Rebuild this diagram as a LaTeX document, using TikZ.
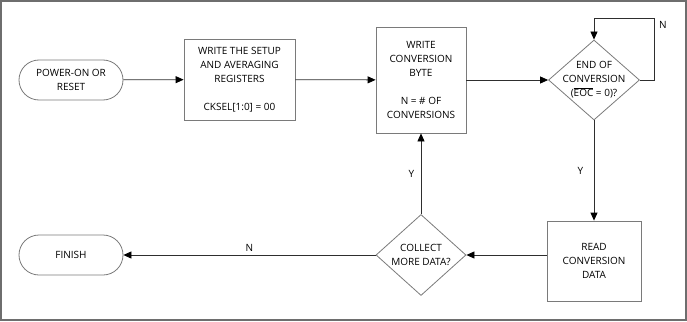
\documentclass[tikz,border=0pt]{standalone}
\usepackage{fontspec}
\setmainfont{Open Sans}
\usepackage{tikz}
\usetikzlibrary{shapes.geometric, arrows.meta}
\definecolor{framegray}{HTML}{6E6E6E}
\definecolor{boxgray}{HTML}{7A7A7A}
\definecolor{linegray}{HTML}{2E2E2E}

\begin{document}
\begin{tikzpicture}[
    x=1pt, y=-1pt,
    font=\fontsize{10}{14}\selectfont,
    terminal/.style={rectangle, rounded corners=20pt, draw=boxgray, line width=0.8pt, minimum width=104pt, minimum height=40pt, inner sep=0pt, align=center},
    process/.style={rectangle, draw=boxgray, line width=0.8pt, inner sep=0pt, align=center},
    decision/.style={diamond, draw=boxgray, line width=0.8pt, minimum width=91pt, minimum height=80pt, inner sep=0pt},
    flow/.style={draw=linegray, line width=0.8pt, -{Triangle[length=8pt, width=7pt, black]}},
]

% Frame
\draw[framegray, line width=1.5pt] (1,1) rectangle (686,320);
\useasboundingbox (0,0) rectangle (687,321);

% Steps
\node[terminal] (power) at (71,80) {POWER-ON OR\\RESET};

\node[process, minimum width=111pt, minimum height=81pt] (setup) at (239.5,79.5) {WRITE THE SETUP\\AND AVERAGING\\REGISTERS\\[14pt]CKSEL[1:0] = 00};

\node[process, minimum width=90pt, minimum height=106pt] (convbyte) at (421,80) {WRITE\\CONVERSION\\BYTE\\[14pt]N = \# OF\\CONVERSIONS};

\node[decision, label={[align=center]center:END OF\\CONVERSION\\($\overline{\mbox{EOC}}$ = 0)?}] (eoc) at (594,80) {};

\node[process, minimum width=94pt, minimum height=80pt] (read) at (594,261) {READ\\CONVERSION\\DATA};

\node[decision, minimum width=90pt, minimum height=81pt, label={[align=center]center:COLLECT\\MORE DATA?}] (collect) at (421,255) {};

\node[terminal] (finish) at (71,255) {FINISH};

% Flow
\draw[flow] (power) -- (setup);
\draw[flow] (setup) -- (convbyte);
\draw[flow] (convbyte) -- (eoc);
\draw[flow] (eoc.east) -- ++(14,0) |- ([yshift=21pt]eoc.north) -- (eoc.north);
\node (loopn) at (663,25) {N};
\draw[flow] (eoc.south) -- node[left=7pt] {Y} (read.north);
\draw[flow] (read.west |- collect.east) -- (collect.east);
\draw[flow] (collect.north) -- node[left=3pt] {Y} (convbyte.south);
\draw[flow] (collect.west) -- node[above] {N} (finish.east);

\end{tikzpicture}
\end{document}
